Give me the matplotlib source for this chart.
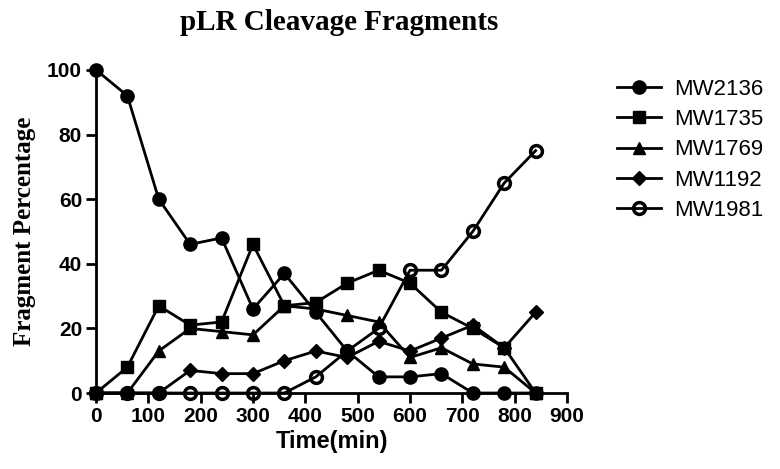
import matplotlib
matplotlib.use("Agg")
import matplotlib.pyplot as plt

# time points (min)
time_min = [0, 60, 120, 180, 240, 300, 360, 420, 480, 540, 600, 660, 720, 780, 840]

# fragment percentages
mw2136 = [100, 92, 60, 46, 48, 26, 37, 25, 13, 5, 5, 6, 0, 0, 0]
mw1735 = [0, 8, 27, 21, 22, 46, 27, 28, 34, 38, 34, 25, 20, 14, 0]
mw1769 = [0, 0, 13, 20, 19, 18, 27, 26, 24, 22, 11, 14, 9, 8, 0]
mw1192 = [0, 0, 0, 7, 6, 6, 10, 13, 11, 16, 13, 17, 21, 14, 25]
mw1981 = [0, 0, 0, 0, 0, 0, 0, 5, 13, 20, 38, 38, 50, 65, 75]

labels = ["MW2136", "MW1735", "MW1769", "MW1192", "MW1981"]
series = [mw2136, mw1735, mw1769, mw1192, mw1981]
markers = ["o", "s", "^", "D", "o"]
msizes = [9.5, 8.5, 9, 7.5, 8.5]

fig = plt.figure(figsize=(7.8, 4.69), dpi=100)
ax = fig.add_axes([0.123, 0.162, 0.604, 0.689])

for vals, lab, m, ms in zip(series, labels, markers, msizes):
    if lab == "MW1981":
        ax.plot(time_min, vals, color="black", lw=2, marker=m, ms=ms,
                mfc="none", mec="black", mew=2.5, label=lab, clip_on=False)
    else:
        ax.plot(time_min, vals, color="black", lw=2, marker=m, ms=ms,
                mfc="black", mec="black", label=lab, clip_on=False)

ax.set_xlim(0, 900)
ax.set_ylim(0, 100)
ax.set_xticks(range(0, 901, 100))
ax.set_yticks(range(0, 101, 20))
ax.spines["top"].set_visible(False)
ax.spines["right"].set_visible(False)
ax.spines["left"].set_linewidth(2)
ax.spines["bottom"].set_linewidth(2)
ax.tick_params(width=2, length=7, labelsize=15, pad=3)
for t in ax.get_xticklabels() + ax.get_yticklabels():
    t.set_fontfamily("Liberation Sans")
    t.set_fontweight("bold")

ax.set_xlabel("Time(min)", fontsize=17, fontweight="bold", family="Liberation Sans", labelpad=3)
ax.set_ylabel("Fragment Percentage", fontsize=18, fontweight="bold", family="Liberation Serif", labelpad=8)
fig.suptitle("pLR Cleavage Fragments", x=0.435, y=0.98, fontsize=21, fontweight="bold",
             family="Liberation Serif")

fig.legend(loc="upper left", bbox_to_anchor=(0.765, 0.875), frameon=False,
           prop={"family": "Liberation Sans", "size": 16}, handlelength=2.0,
           labelspacing=0.42, handletextpad=0.6)

fig.savefig("out.png", dpi=100)
